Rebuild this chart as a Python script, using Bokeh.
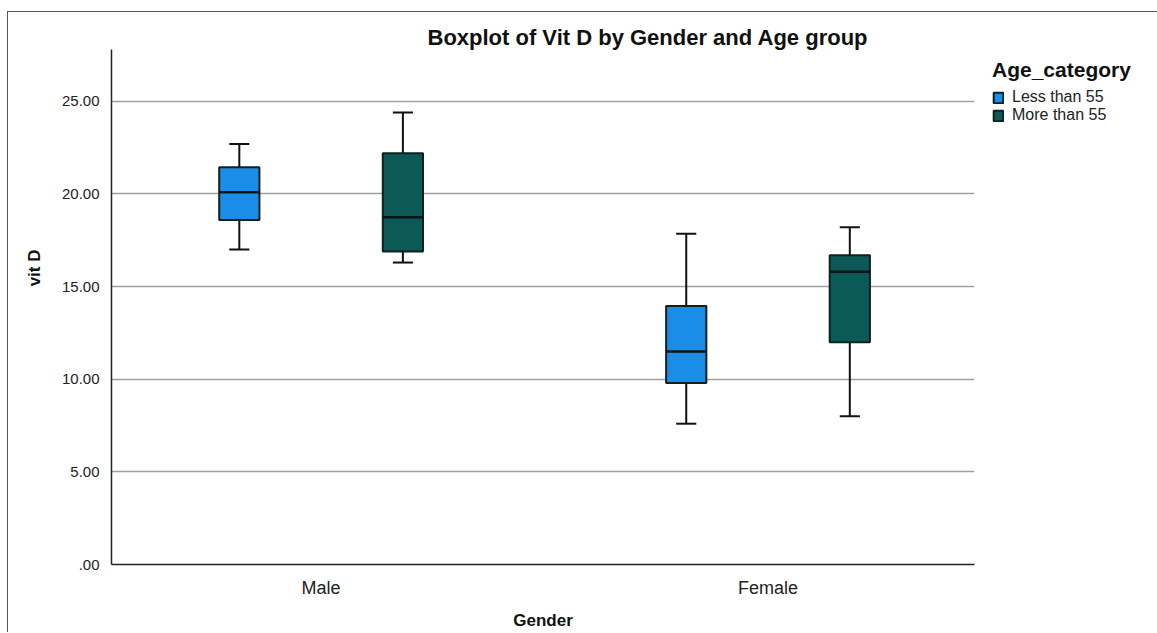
from bokeh.plotting import figure
from bokeh.models import (Range1d, FixedTicker, Legend, LegendItem, Title,
                          ColumnDataSource)
from bokeh.embed import file_html
from bokeh.resources import INLINE

# ---------------- data ----------------
genders = ["Male", "Female"]
gender_pos = [1, 2]
age_groups = ["Less than 55", "More than 55"]

# per box: Male<55, Male>55, Female<55, Female>55
box_gender = ["Male", "Male", "Female", "Female"]
box_age = ["Less than 55", "More than 55", "Less than 55", "More than 55"]
lower = [17.0, 16.3, 7.6, 8.0]
q1 = [18.6, 16.9, 9.8, 12.0]
median = [20.1, 18.75, 11.5, 15.8]
q3 = [21.45, 22.2, 13.95, 16.7]
upper = [22.7, 24.4, 17.85, 18.2]

y_ticks = [0, 5, 10, 15, 20, 25]
y_tick_labels = [".00", "5.00", "10.00", "15.00", "20.00", "25.00"]

colors = {"Less than 55": "#1a8de8", "More than 55": "#0b5a57"}

FONT = "Liberation Sans"

# ---------------- geometry ----------------
dodge = {"Less than 55": -0.183, "More than 55": 0.183}
box_w = 0.09
cap_w = 0.045

gpos = dict(zip(genders, gender_pos))
xc = [gpos[g] + dodge[a] for g, a in zip(box_gender, box_age)]

src = ColumnDataSource(dict(
    x=xc, lower=lower, q1=q1, median=median, q3=q3, upper=upper,
    x0=[x - box_w / 2 for x in xc], x1=[x + box_w / 2 for x in xc],
    c0=[x - cap_w / 2 for x in xc], c1=[x + cap_w / 2 for x in xc],
    color=[colors[a] for a in box_age], age=box_age,
))

p = figure(frame_width=863, frame_height=515,
           x_range=Range1d(0.531, 2.462), y_range=Range1d(0, 27.8),
           output_backend="svg", toolbar_location=None,
           min_border_left=103, min_border_top=37, min_border_bottom=66,
           min_border_right=180)
p.styles = {"border-left": "1px solid #555", "border-top": "1px solid #555",
            "margin-left": "7px", "margin-top": "11px"}
p.outline_line_color = None
p.background_fill_color = "white"
p.border_fill_color = "white"

# title
p.title.text = "Boxplot of Vit D by Gender and Age group"
p.title.text_font = FONT
p.title.text_font_style = "bold"
p.title.text_font_size = "22px"
p.title.text_color = "#111111"
p.title.align = "left"
p.title.offset = 316
p.title.standoff = 0

# grid
p.xgrid.grid_line_color = None
p.ygrid.ticker = FixedTicker(ticks=y_ticks[1:])
p.ygrid.grid_line_color = "#a0a0a0"
p.ygrid.grid_line_width = 1.6

# axes
p.yaxis.ticker = FixedTicker(ticks=y_ticks)
p.yaxis.major_label_overrides = {t: l for t, l in zip(y_ticks, y_tick_labels)}
p.xaxis.ticker = FixedTicker(ticks=gender_pos)
p.xaxis.major_label_overrides = {gp: g for gp, g in zip(gender_pos, genders)}
for ax in (p.xaxis, p.yaxis):
    ax.major_tick_line_color = None
    ax.minor_tick_line_color = None
    ax.axis_line_color = "#222222"
    ax.axis_line_width = 1.5
    ax.major_label_text_font = FONT
    ax.major_label_text_color = "#222222"
    ax.axis_label_text_font = FONT
    ax.axis_label_text_font_style = "bold"
    ax.axis_label_text_color = "#111111"
p.yaxis.major_label_text_font_size = "15px"
p.yaxis.major_label_standoff = 6
p.xaxis.major_label_text_font_size = "18px"
p.xaxis.major_label_standoff = 7
p.xaxis.axis_label = "Gender"
p.xaxis.axis_label_text_font_size = "17px"
p.xaxis.axis_label_standoff = 10

# y-axis title (side title so it sits where the reference has it)
ytitle = Title(text="vit D", text_font=FONT, text_font_style="bold",
               text_font_size="17px", text_color="#111111",
               align="right", offset=200, standoff=29)
p.add_layout(ytitle, "left")

# whiskers
p.segment(x0="x", y0="q3", x1="x", y1="upper", source=src,
          line_color="#111111", line_width=2)
p.segment(x0="x", y0="lower", x1="x", y1="q1", source=src,
          line_color="#111111", line_width=2)
p.segment(x0="c0", y0="upper", x1="c1", y1="upper", source=src,
          line_color="#111111", line_width=2)
p.segment(x0="c0", y0="lower", x1="c1", y1="lower", source=src,
          line_color="#111111", line_width=2)
# boxes
boxes = p.quad(left="x0", right="x1", bottom="q1", top="q3", source=src,
               fill_color="color", line_color="#10201f", line_width=2)
p.segment(x0="x0", y0="median", x1="x1", y1="median", source=src,
          line_color="#0a1414", line_width=2.5)

# legend
items = [LegendItem(label=a, renderers=[boxes], index=i)
         for i, a in enumerate(age_groups)]
legend = Legend(items=items, location=(18, 440), padding=0, margin=0,
                spacing=0, glyph_width=12, glyph_height=13,
                label_text_font=FONT, label_text_font_size="16px",
                label_text_color="#222222", label_standoff=8,
                label_height=13, border_line_color=None,
                background_fill_alpha=0,
                title="Age_category", title_text_font=FONT,
                title_text_font_style="bold", title_text_font_size="21px",
                title_text_color="#111111", title_standoff=6)
p.add_layout(legend, "right")

open("out.html", "w").write(file_html(p, INLINE))
